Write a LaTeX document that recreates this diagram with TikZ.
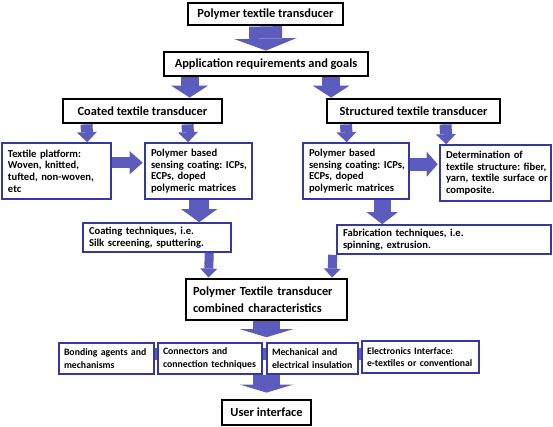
\documentclass[tikz,border=0pt]{standalone}
\usepackage{fontspec}
\setmainfont{Carlito}
\usetikzlibrary{arrows.meta,calc}
\definecolor{arrc}{RGB}{92,92,190}
\definecolor{boxc}{RGB}{55,55,160}
\newcommand{\txl}[1]{\mbox{#1}}
\frenchspacing
\begin{document}
\begin{tikzpicture}[x=1pt,y=-1pt,
 bigbox/.style={draw=black,line width=2.8pt,fill=white,inner sep=0pt,align=center,font=\bfseries\fontsize{12.4}{16.7}\selectfont},
 smallbox/.style={draw=boxc,line width=1.6pt,fill=white,inner xsep=6pt,inner ysep=0pt,align=left,font=\bfseries\fontsize{10.6}{11.7}\selectfont},
 rowbox/.style={smallbox,inner xsep=5pt,font=\bfseries\fontsize{9.8}{12.5}\selectfont},
 barrow/.style args={#1/#2/#3}{draw=arrc,line width=#1,-{Triangle[width=#2,length=#3,line width=0pt,fill=arrc]}}
]
\useasboundingbox[fill=white] (0,0) rectangle (553,427);

\node[bigbox,minimum width=155,minimum height=22] (t1) at (265.5,14) {Polymer textile transducer};
\node[bigbox,minimum width=204,minimum height=24] (t2) at (266,64) {Application requirements and goals};
\node[bigbox,minimum width=159,minimum height=24] (cL) at (142.5,111) {Coated textile transducer};
\node[bigbox,minimum width=173,minimum height=24] (cR) at (413.5,111) {Structured textile transducer};

\node[smallbox,minimum width=109,minimum height=56,text width=97] (pL) at (56.5,171) {\txl{Textile platform:}\\\txl{Woven, knitted,}\\\txl{tufted, non-woven,}\\\txl{etc}};
\node[smallbox,minimum width=107,minimum height=56,text width=95] (pM) at (198.5,171) {\txl{Polymer based}\\\txl{sensing coating: ICPs,}\\\txl{ECPs, doped}\\\txl{polymeric matrices}};
\node[smallbox,minimum width=106,minimum height=56,text width=94] (pR) at (356,171) {\txl{Polymer based}\\\txl{sensing coating: ICPs,}\\\txl{ECPs, doped}\\\txl{polymeric matrices}};
\node[smallbox,minimum width=111,minimum height=56,text width=99] (pD) at (495.5,173) {\txl{Determination of}\\\txl{textile structure: fiber,}\\\txl{yarn, textile surface or}\\\txl{composite.}};

\node[smallbox,minimum width=148,minimum height=29,text width=136] (cT) at (157,237.5) {\txl{Coating techniques, i.e.}\\\txl{Silk screening, sputtering.}};
\node[smallbox,minimum width=214,minimum height=29,text width=202] (fT) at (444,239.5) {\txl{Fabrication techniques, i.e.}\\\txl{spinning, extrusion.}};

\node[bigbox,minimum width=161,minimum height=41,text width=147,align=left] (comb) at (266.5,299.5) {\txl{Polymer Textile transducer}\\\txl{combined characteristics}};

\node[rowbox,minimum width=95,minimum height=31,text width=85] (bA) at (106.5,358.5) {\txl{Bonding agents and}\\\txl{mechanisms}};
\node[rowbox,minimum width=104,minimum height=31,text width=94] (bB) at (210,358.5) {\txl{Connectors and}\\\txl{connection techniques}};
\node[rowbox,minimum width=91,minimum height=31,text width=81] (bC) at (312.5,358.5) {\txl{Mechanical and}\\\txl{electrical insulation}};
\node[rowbox,minimum width=117,minimum height=32,text width=107] (bD) at (420.5,357) {\txl{Electronics Interface:}\\\txl{e-textiles or conventional}};

\node[bigbox,minimum width=89,minimum height=25] (ui) at (266.5,412.5) {User interface};

% block arrows
\draw[barrow={33pt/62pt/12pt}] (t1.south) -- (t2.north);
\draw[barrow={18pt/37pt/12pt}] ($(t2.south west)+(27,0)$) -- ($(cL.north west)+(128,0)$);
\draw[barrow={18pt/37pt/12pt}] ($(t2.south west)+(168.5,0)$) -- ($(cR.north west)+(5.5,0)$);
\draw[barrow={12pt/20pt/10pt}] ($(cL.south west)+(25,0)$) -- ($(pL.north west)+(86,0)$);
\draw[barrow={12pt/20pt/10pt}] ($(cL.south west)+(126,0)$) -- ($(pM.north west)+(44,0)$);
\draw[barrow={12pt/20pt/10pt}] ($(cR.south west)+(20.5,0)$) -- ($(pR.north west)+(44.5,0)$);
\draw[barrow={12pt/20pt/10pt}] ($(cR.south west)+(120,0)$) -- ($(pD.north west)+(7,0)$);
\draw[barrow={11pt/23pt/13pt},shorten >=1.5pt] ($(pL.north east)+(0,20.5)$) -- ($(pM.north west)+(0,20.5)$);
\draw[barrow={13pt/25pt/11pt},shorten >=1.5pt] ($(pR.north east)+(0,22)$) -- ($(pD.north west)+(0,20)$);
\draw[barrow={20pt/36pt/13pt}] ($(pM.south west)+(55,0)$) -- ($(cT.north west)+(117,0)$);
\draw[barrow={17pt/31pt/12pt}] ($(pR.south west)+(80,0)$) -- ($(fT.north west)+(46,0)$);
\draw[barrow={9pt/17pt/9pt}] ($(cT.south west)+(127,0)$) -- ($(comb.north west)+(24,0)$);
\draw[barrow={9pt/17pt/9pt}] ($(fT.south west)+(-3.5,0)$) -- ($(comb.north west)+(147.5,0)$);
\draw[barrow={27pt/53pt/8pt}] (comb.south) -- ($(comb.south |- bB.north)+(0,-5)$);
\draw[barrow={27pt/53pt/8pt}] (comb.south |- bB.south) -- ($(ui.north)+(0,-6)$);

% connecting bars
\fill[arrc] ($(bA.east)+(0,-10.5)$) rectangle ($(bB.west)+(0,1.5)$);
\fill[arrc] ($(bB.east)+(0,-10.5)$) rectangle ($(bC.west)+(0,1.5)$);
\fill[arrc] ($(bC.east)+(0,-10.5)$) rectangle ($(bD.west)+(0,3)$);
\end{tikzpicture}
\end{document}
